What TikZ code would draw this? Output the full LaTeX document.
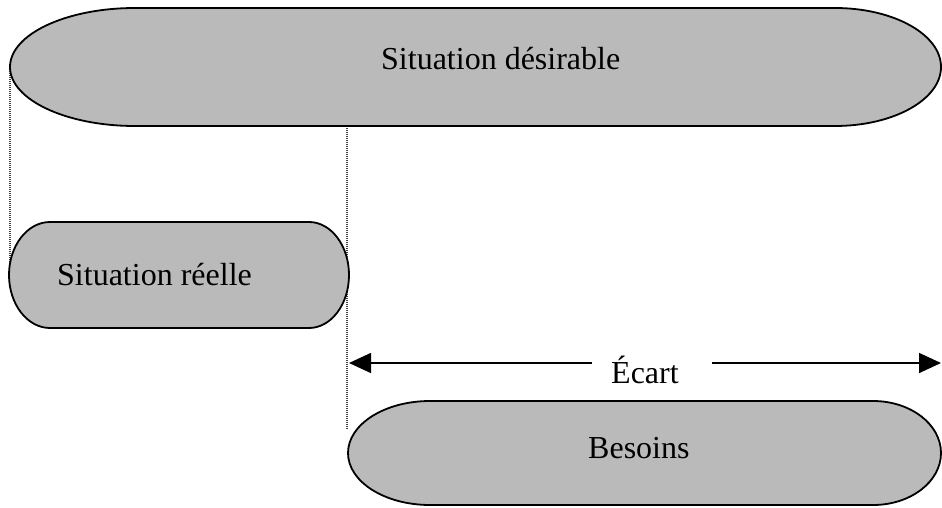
\documentclass[tikz,border=0pt]{standalone}
\usepackage{fontspec}
\setmainfont{Liberation Serif}
\usetikzlibrary{arrows.meta}
\definecolor{pillgray}{gray}{0.73}
\tikzset{
  pill/.style={draw=black, line width=1.8pt, fill=pillgray},
  label/.style={font=\fontsize{32}{36}\selectfont, inner sep=0pt, anchor=base west},
  guide/.style={line width=1.2pt, dash pattern=on 1pt off 1pt, black!75},
  dimline/.style={line width=1.6pt, -{Triangle[length=22pt,width=20pt]}}
}
\begin{document}
\begin{tikzpicture}[x=1pt,y=1pt]
\useasboundingbox (0,0) rectangle (942,507);

% vertical guides
\coordinate (g1top) at (10,440);
\coordinate (g1bot) at (10,232);
\coordinate (g2top) at (347,381);
\coordinate (g2bot) at (347,77);
\draw[guide] (g1top) -- (g1bot);
\draw[guide] (g2top) -- (g2bot);

% desired situation
\draw[pill] (135,499) -- (835,499)
  arc[start angle=90, end angle=-90, x radius=106, y radius=59]
  -- (135,381)
  arc[start angle=270, end angle=90, x radius=125, y radius=59] -- cycle;

% actual situation
\draw[pill] (50,285) -- (309,285)
  arc[start angle=90, end angle=-90, x radius=40, y radius=53]
  -- (50,179)
  arc[start angle=270, end angle=90, x radius=41, y radius=53] -- cycle;

% needs
\draw[pill] (430,106) -- (873,106)
  arc[start angle=90, end angle=-90, x radius=68, y radius=52]
  -- (430,2)
  arc[start angle=270, end angle=90, x radius=82, y radius=52] -- cycle;

% labels
\node[label] (desirable) at (381,437) {Situation désirable};
\node[label] (reelle) at (57,222) {Situation réelle};
\node[label] (besoins) at (588,49) {Besoins};
\node[label] (ecart) at (611,124) {Écart};

% gap dimension
\coordinate (aL) at (349,144);
\coordinate (aR) at (941,144);
\coordinate (sL) at (592,144);
\coordinate (sR) at (712,144);
\draw[dimline] (sL) -- (aL);
\draw[dimline] (sR) -- (aR);
\end{tikzpicture}
\end{document}
